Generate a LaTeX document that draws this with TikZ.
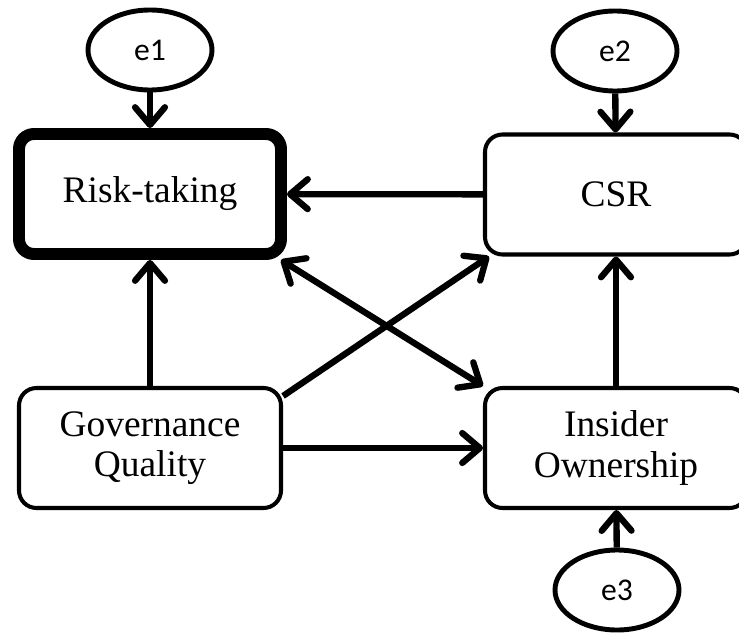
\documentclass[tikz,border=0pt]{standalone}
\usepackage{fontspec}
\setmainfont{Liberation Serif}
\newfontfamily\errfont{Carlito}
\usetikzlibrary{arrows.meta, shapes.geometric}

\begin{document}
\begin{tikzpicture}[>={Straight Barb[length=10pt,width=17pt,line cap=round,line join=round]},scale=1.0,
  varbox/.style={draw,line width=2.3pt,rounded corners=0.35cm,minimum width=5.24cm,minimum height=2.4cm,align=center,font=\fontsize{21.3}{23}\selectfont},
  errnode/.style={draw,ellipse,line width=2.8pt,minimum width=2.48cm,minimum height=1.6cm,font=\errfont\fontsize{18}{20}\selectfont},
  link/.style={line width=3.6pt}]
  \useasboundingbox (0,0) rectangle (14.78,12.66);
  % variables
  \node[varbox,line width=6.8pt,rounded corners=0.3cm] (risk) at (3.0,8.78) {Risk-taking};
  \node[varbox] (csr) at (12.32,8.77) {CSR};
  \node[varbox] (gov) at (3.0,3.70) {Governance\\Quality};
  \node[varbox] (ins) at (12.32,3.70) {Insider\\Ownership};
  % error terms
  \node[errnode] (e1) at (3.0,11.66) {e1};
  \node[errnode] (e2) at (12.3,11.64) {e2};
  \node[errnode] (e3) at (12.34,0.86) {e3};
  % paths
  \draw[link,->](e1)--(risk);
  \draw[link,->](e2)--(csr);
  \draw[link,->](e3)--(ins);
  \draw[link,->](csr)--(risk);
  \draw[link,->](gov)--(risk);
  \draw[link,->](gov)--(ins);
  \draw[link,->](ins)--(csr);
  \draw[link,->]([yshift=-0.2cm]gov.north east)--([xshift=0.12cm]csr.south west);
  \draw[link,<->]([xshift=-0.12cm]risk.south east)--(ins.north west);
\end{tikzpicture}
\end{document}
